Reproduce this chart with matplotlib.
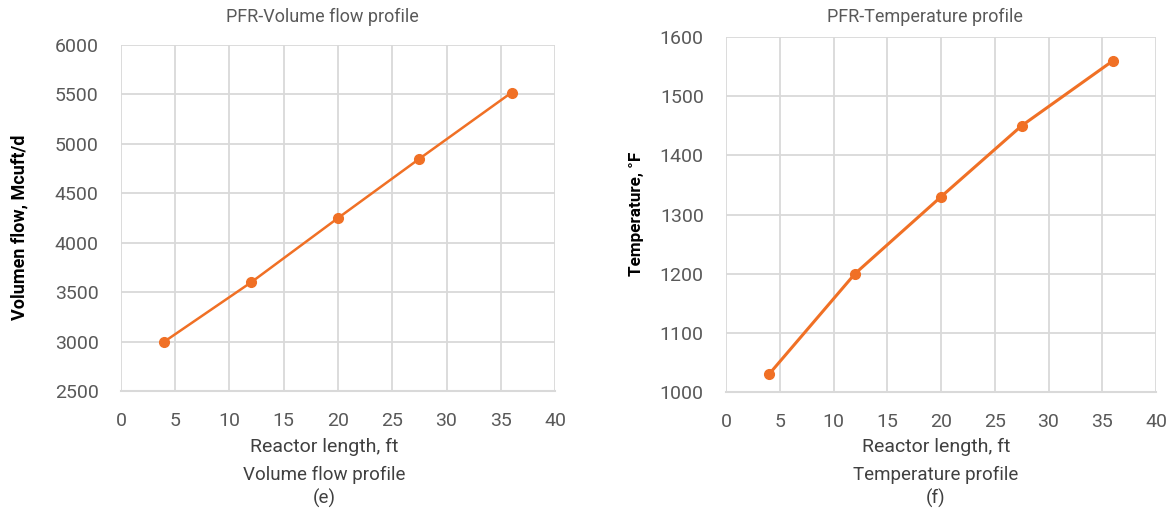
import matplotlib.pyplot as plt

plt.rcParams['font.family'] = ['Roboto', 'DejaVu Sans']

# Volume flow profile (e)
length_e = [4, 12, 20, 27.5, 36]
flow = [3000, 3600, 4250, 4850, 5520]

# Temperature profile (f)
length_f = [4, 12, 20, 27.5, 36]
temp = [1030, 1200, 1330, 1450, 1560]

orange = '#F07025'
grid_c = '#D9D9D9'
text_c = '#404040'

fig = plt.figure(figsize=(11.71, 5.12), dpi=100)
ax1 = fig.add_axes([0.1033, 0.2363, 0.3707, 0.6757])
ax2 = fig.add_axes([0.620, 0.2344, 0.3672, 0.6933])


def style(ax, ylim, ystep):
    ax.set_xlim(0, 40)
    ax.set_ylim(*ylim)
    ax.set_xticks(range(0, 41, 5))
    ax.set_yticks(range(ylim[0], ylim[1] + 1, ystep))
    ax.grid(True, color=grid_c, linewidth=1.3)
    ax.set_axisbelow(True)
    for s in ax.spines.values():
        s.set_visible(False)
    ax.spines['bottom'].set_visible(True)
    ax.spines['bottom'].set_color(grid_c)
    ax.spines['bottom'].set_linewidth(1.5)
    ax.tick_params(length=0, labelsize=14, labelcolor='#595959')
    ax.tick_params(axis='x', pad=15)
    ax.tick_params(axis='y', pad=16)


style(ax1, (2500, 6000), 500)
ax1.plot(length_e, flow, color=orange, lw=1.8, marker='o', ms=7, clip_on=False)

style(ax2, (1000, 1600), 100)
ax2.plot(length_f, temp, color=orange, lw=2.2, marker='o', ms=7, clip_on=False)

# titles and labels
fig.text(322 / 1171, 1 - 17 / 512, 'PFR-Volume flow profile', ha='center', va='center',
         fontsize=13, color='#595959')
fig.text(925 / 1171, 1 - 17 / 512, 'PFR-Temperature profile', ha='center', va='center',
         fontsize=13, color='#595959')

for cx, sub, tag in [(324, 'Volume flow profile', '(e)'), (936, 'Temperature profile', '(f)')]:
    fig.text(cx / 1171, 1 - 447 / 512, 'Reactor length, ft', ha='center', va='center', fontsize=14, color=text_c)
    fig.text(cx / 1171, 1 - 475 / 512, sub, ha='center', va='center', fontsize=13.5, color=text_c)
    fig.text(cx / 1171, 1 - 498 / 512, tag, ha='center', va='center', fontsize=13.5, color=text_c)

fig.text(19 / 1171, 1 - 227 / 512, 'Volumen flow, Mcuft/d', rotation=90, ha='center', va='center',
         fontsize=13, fontweight='bold', color='black')
fig.text(637 / 1171, 1 - 214 / 512, 'Temperature, °F', rotation=90, ha='center', va='center',
         fontsize=12.3, fontweight='bold', color='black')

fig.savefig('out.png', dpi=100)
